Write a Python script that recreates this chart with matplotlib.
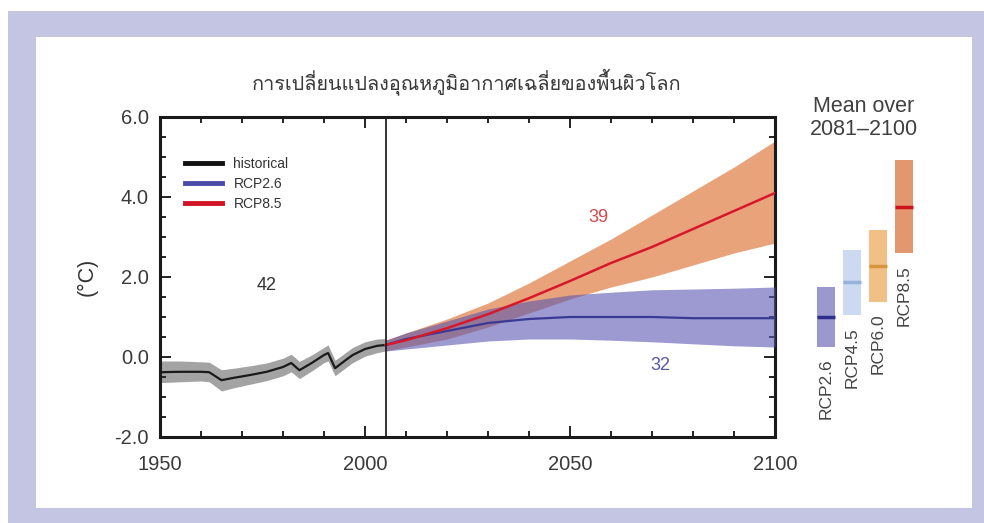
import matplotlib
matplotlib.use('Agg')
import matplotlib.pyplot as plt
from matplotlib import font_manager
from matplotlib.ft2font import FT2Font
from matplotlib.lines import Line2D
from matplotlib.patches import Rectangle
import numpy as np

# ---------------- data ----------------
title_text = "การเปลี่ยนแปลงอุณหภูมิอากาศเฉลี่ยของพื้นผิวโลก"

hist_years = [1950, 1955, 1960, 1962, 1965, 1968, 1972, 1976, 1980, 1982, 1984,
              1987, 1990, 1991, 1992.7, 1995, 1997, 2000, 2003, 2005]
hist_mean = [-0.38, -0.37, -0.37, -0.38, -0.58, -0.52, -0.45, -0.37, -0.25, -0.15, -0.33,
             -0.15, 0.05, 0.10, -0.28, -0.10, 0.05, 0.20, 0.28, 0.30]
hist_lo = [-0.64, -0.62, -0.60, -0.62, -0.85, -0.77, -0.68, -0.59, -0.47, -0.37, -0.54,
           -0.35, -0.14, -0.10, -0.47, -0.29, -0.14, 0.02, 0.11, 0.15]
hist_hi = [-0.10, -0.10, -0.12, -0.13, -0.32, -0.28, -0.22, -0.15, -0.03, 0.07, -0.11,
           0.05, 0.24, 0.30, -0.08, 0.09, 0.24, 0.38, 0.45, 0.46]

fut_years = [2005, 2010, 2020, 2030, 2040, 2050, 2060, 2070, 2080, 2090, 2100]
rcp85_mean = [0.30, 0.42, 0.72, 1.07, 1.47, 1.90, 2.35, 2.75, 3.20, 3.65, 4.10]
rcp85_lo = [0.15, 0.25, 0.45, 0.75, 1.10, 1.45, 1.75, 2.00, 2.30, 2.60, 2.85]
rcp85_hi = [0.42, 0.60, 0.95, 1.35, 1.85, 2.40, 2.95, 3.55, 4.15, 4.75, 5.40]
rcp26_mean = [0.30, 0.45, 0.65, 0.85, 0.95, 1.00, 1.00, 1.00, 0.97, 0.97, 0.97]
rcp26_lo = [0.15, 0.20, 0.30, 0.40, 0.45, 0.45, 0.42, 0.38, 0.33, 0.28, 0.25]
rcp26_hi = [0.42, 0.60, 0.90, 1.20, 1.40, 1.55, 1.62, 1.68, 1.70, 1.72, 1.75]

bar_labels = ["RCP2.6", "RCP4.5", "RCP6.0", "RCP8.5"]
bar_mean = [1.0, 1.87, 2.28, 3.76]
bar_lo = [0.26, 1.05, 1.38, 2.6]
bar_hi = [1.75, 2.67, 3.17, 4.92]

model_counts = ["42", "39", "32"]

# ---------------- fonts ----------------
def find_thai_font():
    for f in font_manager.fontManager.ttflist:
        try:
            ft = FT2Font(f.fname)
            cmap = ft.get_charmap()
            if 0x0E01 in cmap and 0x0E40 in cmap:
                return f.name
        except Exception:
            continue
    return None

thai = find_thai_font()
base = 'Liberation Sans'
plt.rcParams['font.family'] = [base, 'DejaVu Sans']
title_family = [thai, base, 'DejaVu Sans'] if thai else [base, 'DejaVu Sans']

W, H = 984, 523
fig = plt.figure(figsize=(W / 100, H / 100), dpi=100)
fig.patch.set_facecolor('white')

# frame
fig.patches.append(Rectangle((8 / W, 0), 1, 1 - 11 / H, transform=fig.transFigure,
                             facecolor='#c4c5e3', edgecolor='none', zorder=-10))
fig.patches.append(Rectangle((36 / W, 1 - 508 / H), (972 - 36) / W, (508 - 37) / H,
                             transform=fig.transFigure, facecolor='white',
                             edgecolor='none', zorder=-9))

# ---------------- main axes ----------------
ax = fig.add_axes([160 / W, 1 - 437 / H, (775 - 160) / W, (437 - 117) / H])
ax.set_facecolor('white')
ax.set_xlim(1950, 2100)
ax.set_ylim(-2, 6)

ax.fill_between(hist_years, hist_lo, hist_hi, color='#a3a3a3', lw=0, zorder=1)
ax.fill_between(fut_years, rcp85_lo, rcp85_hi, color='#e9a37a', lw=0, zorder=2)
ax.fill_between(fut_years, rcp26_lo, rcp26_hi, color=(90 / 255, 87 / 255, 177 / 255),
                alpha=0.6, lw=0, zorder=3)
ax.plot(hist_years, hist_mean, color='#1a1a1a', lw=1.6, zorder=5)
ax.plot(fut_years, rcp26_mean, color='#3a3a94', lw=1.6, zorder=5)
ax.plot(fut_years, rcp85_mean, color='#d7182a', lw=1.8, zorder=6)
ax.axvline(2005, color='#222222', lw=1.3, zorder=7)

ax.set_yticks([-2, 0, 2, 4, 6])
ax.set_yticklabels(['-2.0', '0.0', '2.0', '4.0', '6.0'])
ax.set_yticks(np.arange(-2, 6.01, 0.5), minor=True)
ax.set_xticks([1950, 2000, 2050, 2100])
ax.set_xticks(np.arange(1950, 2101, 10), minor=True)
ax.tick_params(which='both', direction='in', top=True, right=True, width=1.4,
               colors='#222222', labelcolor='#3a3a3a', labelsize=14.5)
ax.tick_params(which='major', length=8)
ax.tick_params(which='minor', length=4)
ax.tick_params(axis='y', pad=8)
ax.tick_params(axis='x', pad=13)
for s in ax.spines.values():
    s.set_linewidth(2.2)
    s.set_color('#1a1a1a')
ax.set_ylabel('(°C)', fontsize=15.5, color='#333333', labelpad=12)

ax.text(1976, 1.8, model_counts[0], fontsize=13, color='#333333', ha='center', va='center')
ax.text(2057, 3.5, model_counts[1], fontsize=13, color='#d34a4a', ha='center', va='center')
ax.text(2072, -0.22, model_counts[2], fontsize=13, color='#5a58a8', ha='center', va='center')

handles = [Line2D([], [], color='#111111', lw=3.5),
           Line2D([], [], color='#4a4aa8', lw=3.5),
           Line2D([], [], color='#d01426', lw=3.5)]
ax.legend(handles, ['historical', 'RCP2.6', 'RCP8.5'], loc='upper left',
          bbox_to_anchor=(0.02, 0.915), frameon=False, fontsize=10,
          handlelength=2.7, handletextpad=0.8, labelspacing=0.45, labelcolor='#333333')

fig.text(467 / W, 1 - 82 / H, title_text, family=title_family, fontsize=14.3,
         color='#3a3a3a', ha='center', va='center')

# ---------------- right bar panel ----------------
bx = fig.add_axes([800 / W, 1 - 437 / H, 130 / W, (437 - 117) / H])
bx.set_xlim(-1, 4)
bx.set_ylim(-2, 6)
bx.axis('off')
bar_face = ['#9b98cf', '#cbd9f1', '#f1c085', '#e2976e']
bar_line = ['#302e8c', '#94b2da', '#d99440', '#d0121e']
xs = np.arange(len(bar_labels))
bx.bar(xs, np.array(bar_hi) - np.array(bar_lo), bottom=bar_lo, width=0.7,
       color=bar_face, lw=0)
for i in range(len(bar_labels)):
    bx.plot([xs[i] - 0.35, xs[i] + 0.35], [bar_mean[i], bar_mean[i]],
            color=bar_line[i], lw=2.5, solid_capstyle='butt')
    bx.text(xs[i], bar_lo[i] - 0.3, bar_labels[i], rotation=90, ha='center', va='top',
            fontsize=12.5, color='#444444')

fig.text(864 / W, 1 - 96 / H, 'Mean over\n2081\u20132100', fontsize=15.5, color='#404040',
         ha='center', va='top', linespacing=1.15)

fig.savefig('out.png', dpi=100, facecolor=fig.get_facecolor())
